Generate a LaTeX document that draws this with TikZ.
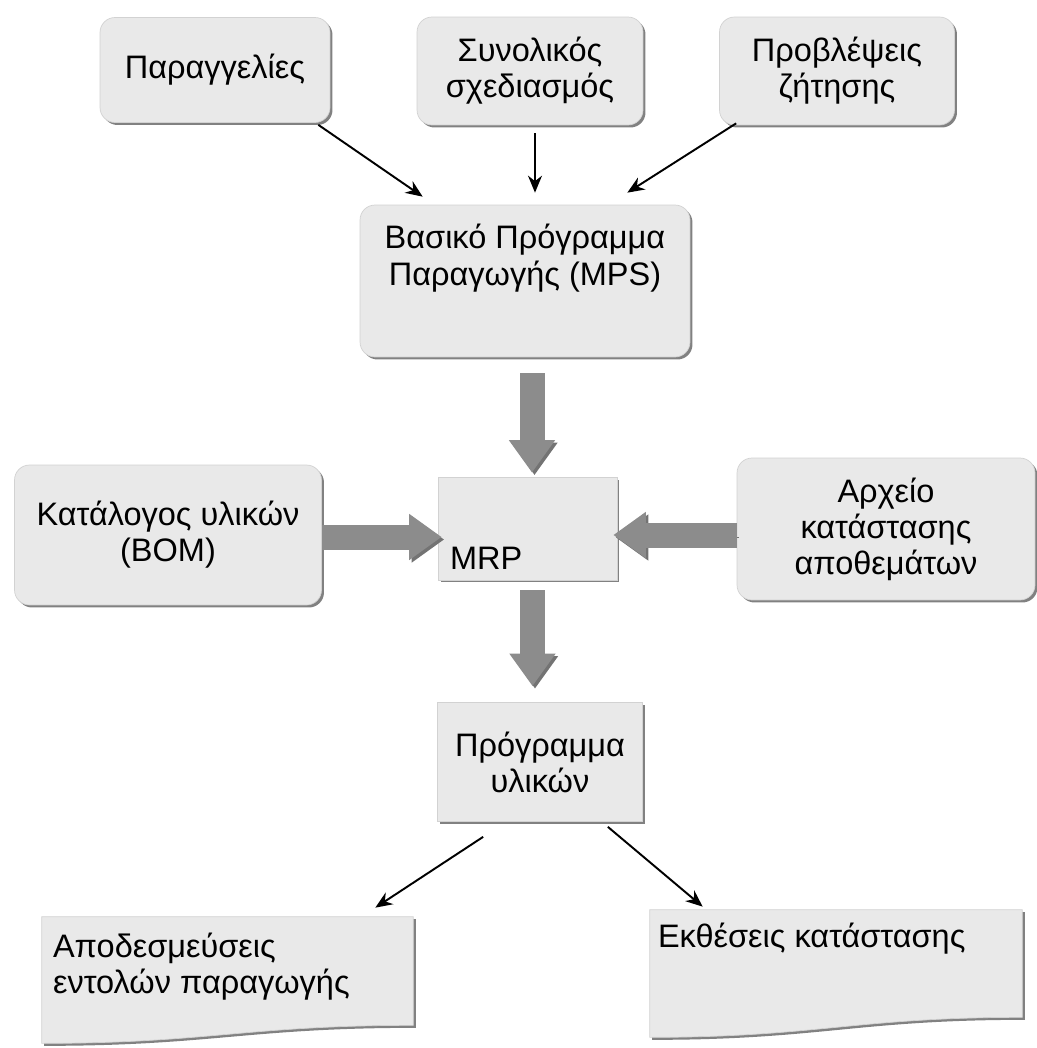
\documentclass[tikz,border=0pt]{standalone}
\usepackage{fontspec}
\setmainfont{Liberation Sans}
\usetikzlibrary{arrows.meta,calc,shadows}
\definecolor{boxgray}{RGB}{233,233,233}
\definecolor{edgegray}{RGB}{210,210,210}
\definecolor{shadegray}{RGB}{115,115,115}
\definecolor{fatgray}{RGB}{140,140,140}

\newcommand{\docshape}[2]{%
  \filldraw[docfill] (#1.north west) -- (#1.north east) -- (#1.south east)
    .. controls ($(#1.south east)!0.45!(#1.south west)$) and ($(#1.south west)!0.45!(#1.south east)+(0,#2)$) .. ($(#1.south west)+(0,#2)$) -- cycle;}

\begin{document}
\begin{tikzpicture}[x=0.02cm,y=-0.02cm,
  every node/.style={font=\fontsize{18.5}{20.5}\selectfont, align=center},
  roundbox/.style={rectangle, rounded corners=0.3cm, fill=boxgray, draw=edgegray,
    drop shadow={shadow xshift=0.05cm, shadow yshift=-0.05cm, fill=shadegray, opacity=0.9}},
  plainbox/.style={rectangle, fill=boxgray, draw=edgegray,
    drop shadow={shadow xshift=0.05cm, shadow yshift=-0.05cm, fill=shadegray, opacity=0.9}},
  docbox/.style={rectangle, inner sep=0pt},
  docfill/.style={fill=boxgray, draw=edgegray,
    drop shadow={shadow xshift=0.05cm, shadow yshift=-0.05cm, fill=shadegray, opacity=0.9}},
  doctext/.style={anchor=north west, align=left, inner sep=0pt},
  thinarrow/.style={line width=1.1pt, -{Stealth[length=0.34cm, width=0.28cm]}},
  fatarrow/.style={line width=0.5cm, draw=fatgray, -{Triangle[width=0.88cm, length=0.65cm]},
    preaction={draw=shadegray, transform canvas={xshift=0.05cm, yshift=-0.05cm}}}]
  \useasboundingbox (0,0) rectangle (1037,1048);

  \node[roundbox, minimum width=4.6cm, minimum height=2.1cm] (ord) at (215,70) {Παραγγελίες};
  \node[roundbox, minimum width=4.52cm, minimum height=2.16cm] (agg) at (530,71) {Συνολικός\\σχεδιασμός};
  \node[roundbox, minimum width=4.7cm, minimum height=2.16cm] (fcst) at (837,71) {Προβλέψεις\\ζήτησης};
  \node[roundbox, minimum width=6.6cm, minimum height=3.04cm, text depth=1.05cm] (mps) at (525,281) {Βασικό Πρόγραμμα\\Παραγωγής (MPS)};

  \node[plainbox, minimum width=3.58cm, minimum height=2.06cm,
    label={[anchor=south west, inner xsep=0.24cm, inner ysep=0.2cm]south west:MRP}] (mrp) at (527.5,528.5) {};
  \node[roundbox, minimum width=6.14cm, minimum height=2.8cm] (bom) at (168,535) {Κατάλογος υλικών\\(BOM)};
  \node[roundbox, minimum width=5.96cm, minimum height=2.84cm] (inv) at (886,529) {Αρχείο\\κατάστασης\\αποθεμάτων};

  \node[plainbox, minimum width=4.1cm, minimum height=2.38cm] (mat) at (540,762) {Πρόγραμμα\\υλικών};

  \node[docbox, minimum width=7.42cm, minimum height=2.16cm] (rel) at (227.5,971) {};
  \docshape{rel}{18}
  \node[doctext] (reltxt) at ($(rel.north west)+(11,16)$) {Αποδεσμεύσεις\\εντολών παραγωγής};
  \node[docbox, minimum width=7.44cm, minimum height=2.14cm] (rep) at (836,963.5) {};
  \docshape{rep}{20}
  \node[doctext] (reptxt) at ($(rep.north west)+(8,13)$) {Εκθέσεις κατάστασης};

  \draw[thinarrow] ($(ord.south east)+(-12,2)$) -- ($(mps.north west)+(63,-8)$);
  \draw[thinarrow] ($(agg.south)+(5,8)$) -- ($(agg.south |- mps.north)+(5,-12)$);
  \draw[thinarrow] ($(fcst.south west)+(17,-2)$) -- ($(mps.north east)+(-63,-12)$);

  \draw[fatarrow] ($(mps.south)+(7,16)$) -- ($(mps.south |- mrp.north)+(7,-4)$);
  \draw[fatarrow] ($(bom.east)+(0,2)$) -- ($(bom.east -| mrp.west)+(4,2)$);
  \draw[fatarrow] ($(inv.west)+(0,6)$) -- ($(inv.west -| mrp.east)+(-4,6)$);
  \draw[fatarrow] ($(mrp.south)+(5,10)$) -- ($(mrp.south |- mat.north)+(5,-16)$);

  \draw[thinarrow] ($(mat.south west)+(46,15)$) -- ($(rel.north east)+(-38,-9)$);
  \draw[thinarrow] ($(mat.south east)+(-35,5)$) -- ($(rep.north west)+(53,-3)$);
\end{tikzpicture}
\end{document}
